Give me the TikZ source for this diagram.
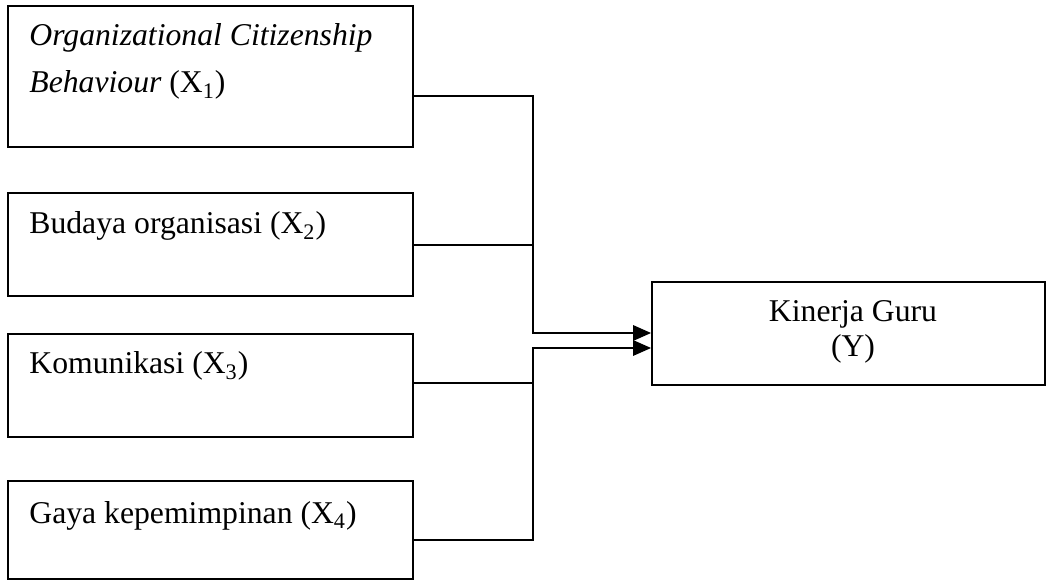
\documentclass[tikz,border=0pt]{standalone}
\usepackage{fontspec}
\setmainfont{Liberation Serif}
\usetikzlibrary{arrows.meta}
\begin{document}
\begin{tikzpicture}[x=0.5pt,y=-0.5pt,
  box/.style={draw=black,line width=0.8pt,rectangle,inner sep=0pt,fill=none},
  lbl/.style={inner sep=0pt,anchor=base west,font=\fontsize{15.85}{19}\selectfont},
  clbl/.style={inner sep=0pt,anchor=base,font=\fontsize{15.85}{19}\selectfont},
  conn/.style={draw=black,line width=1.2pt},
  arr/.style={conn,line width=1.4pt,-{Triangle[length=9pt,width=7.5pt]}}]
\useasboundingbox (0,0) rectangle (1047,581);
% boxes
\node[box,minimum width=202.5pt,minimum height=70.5pt] (b1) at (210.5,76.5) {};
\node[box,minimum width=202.5pt,minimum height=51.5pt] (b2) at (210.5,244.5) {};
\node[box,minimum width=202.5pt,minimum height=51.5pt] (b3) at (210.5,385.5) {};
\node[box,minimum width=202.5pt,minimum height=49pt] (b4) at (210.5,530) {};
\node[box,minimum width=196.5pt,minimum height=51.5pt] (by) at (848.5,333.5) {};
% labels
\node[lbl] (t1a) at (29,46) {\itshape Organizational Citizenship};
\node[lbl] (t1b) at (29,93) {\itshape Behaviour\upshape\ (X\textsubscript{1})};
\node[lbl] (t2) at (29,234) {Budaya organisasi (X\textsubscript{2})};
\node[lbl] (t3) at (29,374) {Komunikasi (X\textsubscript{3})};
\node[lbl] (t4) at (29,523) {Gaya kepemimpinan (X\textsubscript{4})};
\node[clbl] (ty1) at (853,322) {Kinerja Guru};
\node[clbl] (ty2) at (853,357) {(Y)};
% junction coordinates
\coordinate (jA) at (533,333);
\coordinate (jB) at (533,348);
\coordinate (y1) at (0,96);
\coordinate (y2) at (0,245);
\coordinate (y3) at (0,383);
\coordinate (y4) at (0,540);
% connectors
\draw[arr] (b1.east |- y1) -| (jA) -- (jA -| by.west);
\draw[conn] (b2.east |- y2) -- (y2 -| jA);
\draw[arr] (b4.east |- y4) -| (jB) -- (jB -| by.west);
\draw[conn] (b3.east |- y3) -- (y3 -| jB);
\end{tikzpicture}
\end{document}
